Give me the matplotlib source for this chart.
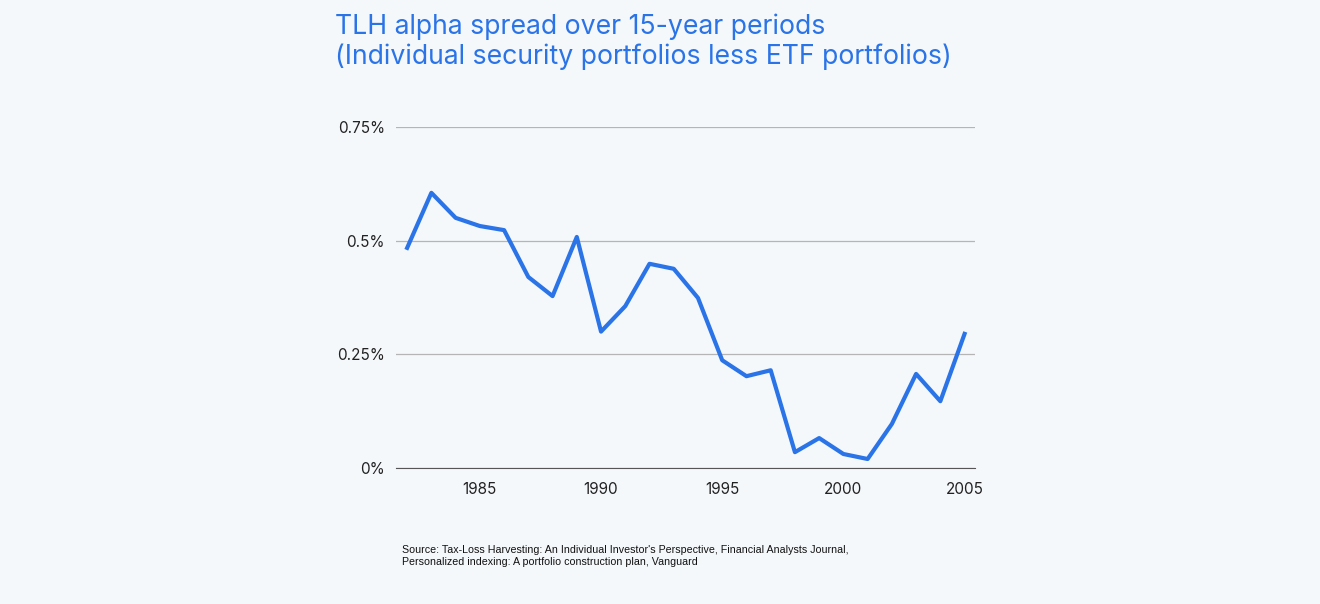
import matplotlib
matplotlib.use("Agg")
import matplotlib.pyplot as plt

years = list(range(1982, 2006))
spread = [0.484, 0.605, 0.55, 0.532, 0.523, 0.42, 0.378, 0.508, 0.30, 0.356,
          0.449, 0.438, 0.374, 0.237, 0.202, 0.215, 0.035, 0.066, 0.031, 0.02,
          0.097, 0.207, 0.147, 0.295]
yticks = [0, 0.25, 0.5, 0.75]
ylabels = ["0%", "0.25%", "0.5%", "0.75%"]
xticks = [1985, 1990, 1995, 2000, 2005]

bg = "#f5f8fb"
blue = "#2a74e8"
plt.rcParams['font.family'] = ['Inter', 'DejaVu Sans']

fig = plt.figure(figsize=(13.2, 6.04), dpi=100, facecolor=bg)
ax = fig.add_axes([0.3, 0.225, 0.439, 0.565], facecolor=bg)
ax.plot(years, spread, color=blue, linewidth=3, solid_joinstyle="round")
ax.set_xlim(1981.54, 2005.45)
ax.set_ylim(0, 0.75)
ax.set_yticks(yticks)
ax.set_yticklabels(ylabels)
ax.set_xticks(xticks)
ax.grid(axis="y", color="#b5b5b5", linewidth=0.9)
ax.set_axisbelow(True)
for s in ["top", "right", "left"]:
    ax.spines[s].set_visible(False)
ax.spines["bottom"].set_color("#555555")
ax.tick_params(length=0, labelsize=11, colors="#222222")
ax.tick_params(axis="x", pad=10)
ax.tick_params(axis="y", pad=8)

fig.text(335/1320, 1 - 14/604, "TLH alpha spread over 15-year periods\n(Individual security portfolios less ETF portfolios)",
         color=blue, fontsize=19.2, va="top", ha="left", linespacing=1.15)
fig.text(402/1320, 1 - 545/604, "Source: Tax-Loss Harvesting: An Individual Investor's Perspective, Financial Analysts Journal,\nPersonalized indexing: A portfolio construction plan, Vanguard",
         fontsize=7.7, family="Liberation Sans", va="top", ha="left", color="#111111")

fig.savefig("out.png", dpi=100, facecolor=bg)
